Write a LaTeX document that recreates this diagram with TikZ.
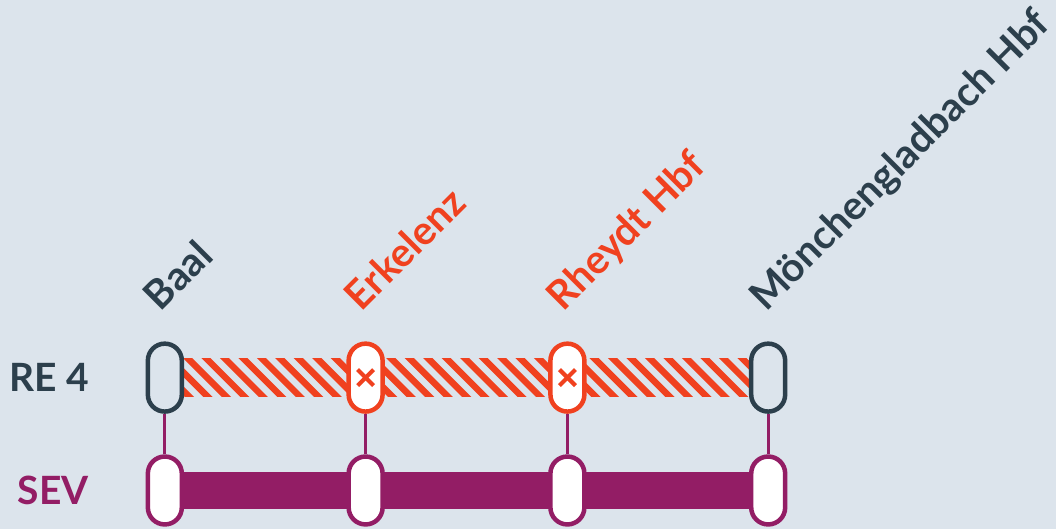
\documentclass[tikz,border=0pt]{standalone}
\usepackage{fontspec}
\setmainfont{Lato}
\usetikzlibrary{positioning}
\pgfdeclarelayer{background}
\pgfsetlayers{background,main}

\definecolor{bgcol}{HTML}{DCE4EC}
\definecolor{slate}{HTML}{2C3F4C}
\definecolor{alert}{HTML}{F0411F}
\definecolor{sev}{HTML}{931D65}

\tikzset{
  stopbox/.style={draw, line width=4.5pt, rounded corners=17pt,
                  minimum width=34pt, minimum height=68pt, inner sep=0pt},
  rowlabel/.style={font=\bfseries\fontsize{39}{39}\selectfont, inner sep=0pt, anchor=east},
  stationlabel/.style={font=\bfseries\fontsize{40}{40}\selectfont, inner sep=0pt,
                       rotate=45, anchor=base west}
}

\begin{document}
\begin{tikzpicture}[x=1pt, y=-1pt]
  \newcommand{\topY}{378}
  \newcommand{\botY}{491}
  \newcommand{\barH}{38}
  \newcommand{\gap}{18.5}

  % Row names
  \node[rowlabel, slate] (re) at (89, \topY) {RE 4};
  \node[rowlabel, sev] (bus) at (89, \botY) {SEV};

  % Stops of the train line (top) and of the replacement bus (bottom)
  \node[stopbox, slate, fill=bgcol] (baal) at (165, \topY) {};
  \node[stopbox, alert, fill=white] (erk) at (366, \topY) {};
  \node[stopbox, alert, fill=white] (rhe) at (568, \topY) {};
  \node[stopbox, slate, fill=bgcol] (mgb) at (769, \topY) {};
  \foreach \s in {baal, erk, rhe, mgb}
    \node[stopbox, sev, fill=white] (\s-bus) at (\s |- 0, \botY) {};

  % Station names
  \node[stationlabel, slate] (baal-name) at ([shift={(-4pt,29pt)}]baal.north) {Baal};
  \node[stationlabel, alert] (erk-name) at ([shift={(-4pt,29pt)}]erk.north) {Erkelenz};
  \node[stationlabel, alert] (rhe-name) at ([shift={(-4pt,29pt)}]rhe.north) {Rheydt Hbf};
  \node[stationlabel, slate] (mgb-name) at ([shift={(-2pt,29pt)}]mgb.north) {Mönchengladbach Hbf};

  % Crosses on the cancelled stops
  \foreach \s in {erk, rhe} {
    \draw[alert, line width=4.2pt] ([shift={(-8pt,-8pt)}]\s.center) -- ([shift={(8pt,8pt)}]\s.center);
    \draw[alert, line width=4.2pt] ([shift={(-8pt,8pt)}]\s.center) -- ([shift={(8pt,-8pt)}]\s.center);
  }

  % Links between train stop and bus stop
  \foreach \s in {baal, erk, rhe, mgb}
    \draw[sev, line width=3pt] (\s) -- (\s-bus);

  \begin{pgfonlayer}{background}
    % Background and frame of the picture
    \fill[bgcol] (0,0) rectangle (1057,530);

    % Bus line: solid bar
    \draw[sev, line width=\barH pt] (baal-bus) -- (mgb-bus);

    % Train line: hatched, no service
    \begin{scope}
      \clip ([yshift=\barH/2 pt]baal.center) rectangle ([yshift=-\barH/2 pt]mgb.center);
      \foreach \k in {-2,...,34}
        \draw[alert, line width=6.5pt] ([shift={(\k*\gap pt, \barH/2 pt+4pt)}]baal.east)
                                       -- ++(\barH+8, \barH+8);
    \end{scope}
  \end{pgfonlayer}
  \useasboundingbox (0,0) rectangle (1057,530);
\end{tikzpicture}
\end{document}
